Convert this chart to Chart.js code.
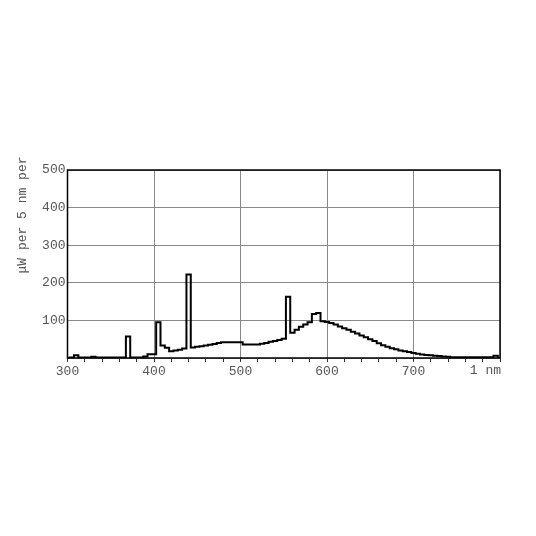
<!DOCTYPE html>
<html>
<head>
<meta charset="utf-8">
<script src="https://cdn.jsdelivr.net/npm/chart.js@4/dist/chart.umd.min.js"></script>
<style>
  html, body { margin: 0; padding: 0; background: #fff; }
  #chart { display: block; }
</style>
</head>
<body>
<canvas id="chart" width="536" height="536"></canvas>
<script>
"use strict";

// wavelength bin centres (nm), 5 nm steps
const wavelengths = [300, 305, 310, 315, 320, 325, 330, 335, 340, 345,
    350, 355, 360, 365, 370, 375, 380, 385, 390, 395,
    400, 405, 410, 415, 420, 425, 430, 435, 440, 445,
    450, 455, 460, 465, 470, 475, 480, 485, 490, 495,
    500, 505, 510, 515, 520, 525, 530, 535, 540, 545,
    550, 555, 560, 565, 570, 575, 580, 585, 590, 595,
    600, 605, 610, 615, 620, 625, 630, 635, 640, 645,
    650, 655, 660, 665, 670, 675, 680, 685, 690, 695,
    700, 705, 710, 715, 720, 725, 730, 735, 740, 745,
    750, 755, 760, 765, 770, 775, 780, 785, 790, 795, 800];

// µW per 5 nm
const power = [0, 1, 7, 1, 1, 1, 3, 1, 1, 1,
    1, 1, 1, 1, 57, 1, 1, 1, 4, 10,
    10, 95, 33, 27, 18, 20, 22, 25, 222, 28,
    30, 31, 33, 35, 37, 40, 42, 42, 42, 42,
    42, 36, 36, 36, 36, 38, 40, 43, 45, 48,
    51, 163, 67, 75, 83, 89, 95, 117, 120, 98,
    96, 93, 89, 84, 79, 75, 70, 65, 60, 55,
    50, 45, 39, 34, 30, 26, 23, 20, 18, 16,
    13, 11, 9, 8, 7, 6, 5, 4, 3, 2,
    2, 2, 2, 2, 2, 2, 2, 2, 2, 6, 0];

const yTicks = [100, 200, 300, 400, 500];
const xLabels = [300, 400, 500, 600, 700];
const yTitle = "\u03bcW per 5 nm per";
const xUnit = "1 nm";

const monoFont = "'Liberation Mono', 'DejaVu Sans Mono', monospace";
const textColor = "#555";

const frameAndTitles = {
    id: "frameAndTitles",
    afterDraw(chart) {
        const { ctx, chartArea: a } = chart;
        ctx.save();
        // frame round the plot
        ctx.strokeStyle = "#000";
        ctx.lineWidth = 1.5;
        ctx.strokeRect(a.left, a.top, a.right - a.left, a.bottom - a.top);
        ctx.fillStyle = textColor;
        ctx.font = "13px " + monoFont;
        // unit label at the right end of the x axis
        ctx.textAlign = "right";
        ctx.textBaseline = "middle";
        ctx.fillText(xUnit, a.right + 1, 371);
        // y axis title
        ctx.translate(23, 215);
        ctx.rotate(-Math.PI / 2);
        ctx.textAlign = "center";
        ctx.fillText(yTitle, 0, 0);
        ctx.restore();
    }
};

new Chart(document.getElementById("chart"), {
    type: "line",
    data: {
        datasets: [{
            data: wavelengths.map((w, i) => ({ x: w, y: power[i] })),
            stepped: "middle",
            borderColor: "#000",
            borderWidth: 2,
            pointRadius: 0,
            fill: false
        }]
    },
    options: {
        responsive: false,
        animation: false,
        events: [],
        layout: { padding: { left: 0, right: 36, top: 170, bottom: 158 } },
        plugins: { legend: { display: false }, tooltip: { enabled: false } },
        scales: {
            x: {
                type: "linear",
                min: 300,
                max: 800,
                afterFit: s => { s.height = 20; },
                border: { display: false },
                grid: {
                    color: c => (c.tick && c.tick.value % 100 === 0) ? "#888" : "rgba(0,0,0,0)",
                    tickColor: "#333",
                    tickLength: 4,
                    lineWidth: 1
                },
                ticks: {
                    stepSize: 20,
                    autoSkip: false,
                    maxRotation: 0,
                    padding: 2,
                    color: textColor,
                    font: { family: monoFont, size: 13 },
                    callback: v => xLabels.includes(v) ? String(v) : ""
                }
            },
            y: {
                min: 0,
                max: 500,
                afterFit: s => { s.width = 67.5; },
                border: { display: false },
                grid: { color: "#888", lineWidth: 1, drawTicks: false },
                ticks: {
                    stepSize: 100,
                    padding: 2,
                    color: textColor,
                    font: { family: monoFont, size: 13 },
                    callback: v => yTicks.includes(v) ? String(v) : ""
                }
            }
        }
    },
    plugins: [frameAndTitles]
});
</script>
</body>
</html>
